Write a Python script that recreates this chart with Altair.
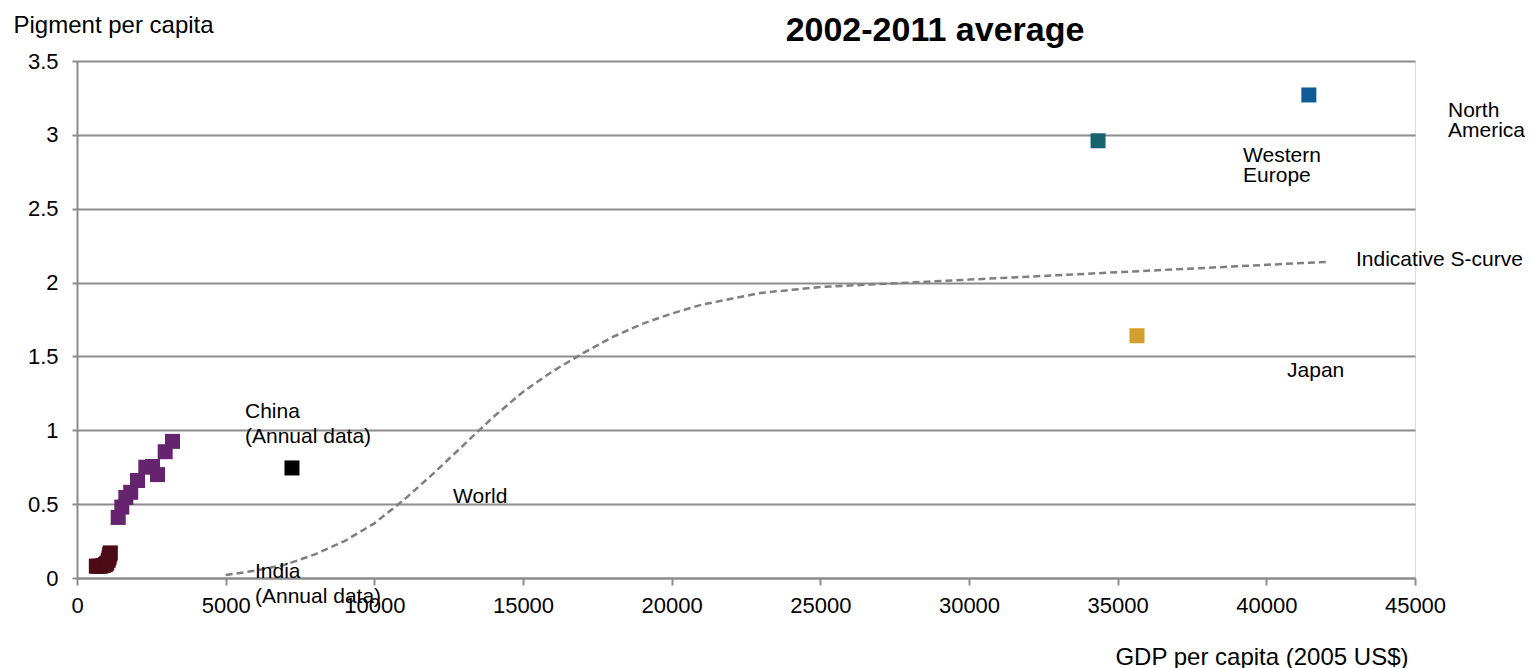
import altair as alt
import pandas as pd

FONT = "Liberation Sans"
GRID = "#8c8c8c"

# ---- data ----
india_gdp = [650, 720, 800, 880, 950, 1000, 1050, 1080, 1100, 1120]
india_pig = [0.08, 0.08, 0.08, 0.085, 0.09, 0.10, 0.12, 0.14, 0.16, 0.17]

china_gdp = [1386, 1507, 1642, 1806, 2035, 2315, 2540, 2708, 2966, 3212]
china_pig = [0.41, 0.48, 0.545, 0.58, 0.66, 0.75, 0.755, 0.70, 0.855, 0.925]

region_names = ["World", "Western Europe", "North America", "Japan"]
region_gdp = [7230, 34340, 41430, 35650]
region_pig = [0.745, 2.96, 3.27, 1.64]

series_names = ["India", "China", "World", "Western Europe", "North America", "Japan"]
series_colors = ["#4d0b17", "#66246f", "#000000", "#176470", "#0f5c99", "#d49f2e"]

curve_gdp = [5000, 6000, 7000, 8000, 9000, 10000, 11000, 12000, 13000, 14000,
             15000, 16000, 17000, 18000, 19000, 20000, 21000, 22000, 23000, 24000,
             25000, 26000, 28000, 30000, 32000, 34000, 36000, 38000, 40000, 42000]
curve_pig = [0.02, 0.05, 0.09, 0.16, 0.25, 0.37, 0.53, 0.71, 0.90, 1.09,
             1.26, 1.40, 1.52, 1.63, 1.72, 1.79, 1.85, 1.89, 1.93, 1.95,
             1.97, 1.98, 2.00, 2.02, 2.04, 2.06, 2.08, 2.10, 2.12, 2.14]

label_text = ["North", "America", "Western", "Europe", "Indicative S-curve", "Japan",
              "China", "(Annual data)", "World", "India", "(Annual data)"]
label_gdp = [46110, 46110, 39216, 39216, 43016, 40696, 5650, 5650, 12646, 5987, 5987]
label_pig = [3.121, 2.986, 2.816, 2.681, 2.112, 1.361, 1.083, 0.914, 0.508, 0.0, -0.169]

chart_title = "2002-2011 average"

x_ticks = [0, 5000, 10000, 15000, 20000, 25000, 30000, 35000, 40000, 45000]
y_ticks = [0, 0.5, 1, 1.5, 2, 2.5, 3, 3.5]

# ---- tables ----
rows = []
for g, p in zip(india_gdp, india_pig):
    rows.append({"gdp": g, "pig": p, "series": "India"})
for g, p in zip(china_gdp, china_pig):
    rows.append({"gdp": g, "pig": p, "series": "China"})
for n, g, p in zip(region_names, region_gdp, region_pig):
    rows.append({"gdp": g, "pig": p, "series": n})
pts = pd.DataFrame(rows)
curve = pd.DataFrame({"gdp": curve_gdp, "pig": curve_pig})
labels = pd.DataFrame({"text": label_text, "gdp": label_gdp, "pig": label_pig})
title_df = pd.DataFrame({"text": [chart_title]})

xscale = alt.Scale(domain=[0, 45000], nice=False, zero=False)
yscale = alt.Scale(domain=[0, 3.5], nice=False, zero=False)

xaxis = alt.Axis(values=x_ticks, format="d", grid=False,
                 domainColor=GRID, domainWidth=2, tickColor=GRID, tickWidth=2, tickSize=7,
                 labelFont=FONT, labelFontSize=22, labelColor="black", labelPadding=10,
                 labelFlush=False,
                 title="GDP per capita (2005 US$)", titleFont=FONT, titleFontSize=24,
                 titleFontWeight="normal", titleColor="black",
                 titleAnchor="end", titleAlign="right", titleBaseline="alphabetic",
                 titleX=1331, titleY=86)
yaxis = alt.Axis(values=y_ticks, labelExpr="'' + datum.value", grid=True,
                 gridColor=GRID, gridWidth=2,
                 domainColor=GRID, domainWidth=2, tickColor=GRID, tickWidth=2, tickSize=5,
                 labelFont=FONT, labelFontSize=22, labelColor="black", labelPadding=14,
                 title="Pigment per capita", titleFont=FONT, titleFontSize=24,
                 titleFontWeight="normal", titleColor="black", titleAngle=0,
                 titleAlign="left", titleBaseline="alphabetic", titleX=-64, titleY=-29)

line = alt.Chart(curve).mark_line(color="#7f7f7f", strokeWidth=2.5, strokeDash=[7, 4]).encode(
    x=alt.X("gdp:Q", scale=xscale, axis=xaxis),
    y=alt.Y("pig:Q", scale=yscale, axis=yaxis),
)

points = alt.Chart(pts).mark_point(shape="square", filled=True, opacity=1, size=225).encode(
    x=alt.X("gdp:Q", scale=xscale),
    y=alt.Y("pig:Q", scale=yscale),
    color=alt.Color("series:N", scale=alt.Scale(domain=series_names, range=series_colors),
                    legend=None),
)

text = alt.Chart(labels).mark_text(font=FONT, fontSize=21, align="left",
                                   baseline="alphabetic", color="black").encode(
    x=alt.X("gdp:Q", scale=xscale),
    y=alt.Y("pig:Q", scale=yscale),
    text="text:N",
)

title = alt.Chart(title_df).mark_text(font=FONT, fontSize=34, fontWeight="bold",
                                      align="center", baseline="alphabetic",
                                      color="black").encode(
    x=alt.value(858), y=alt.value(-20), text="text:N",
)

chart = alt.layer(line, points, text, title).properties(
    width=1338, height=517,
    padding={"left": 69, "top": 53, "right": 110, "bottom": 90},
    autosize=alt.AutoSizeParams(type="none"),
).configure_view(stroke=None).configure(background="white")

chart.save("out.html", embed_options={"renderer": "svg", "actions": False})
